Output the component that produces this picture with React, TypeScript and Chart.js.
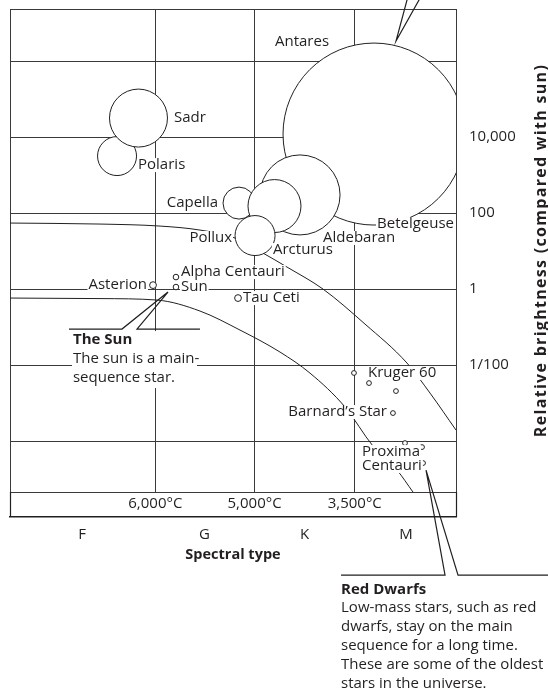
import React, { useEffect, useRef } from 'react';
import { Chart, registerables } from 'chart.js';

Chart.register(...registerables);

// ---------- data ----------
const STAR_NAMES = [
  'Antares', 'Aldebaran', 'Capella', 'Arcturus', 'Pollux', 'Polaris', 'Sadr',
  'Asterion', 'Alpha Centauri', 'Sun', 'Tau Ceti',
  'Kruger 60', 'Kruger 60 B', 'Red dwarf A', 'Barnard’s Star',
  'Red dwarf B', 'Red dwarf C', 'Proxima Centauri',
];
// position along the spectral-type axis (F→M)
const STAR_X = [3.632, 2.894, 2.285, 2.639, 2.445, 1.068, 1.282, 1.427, 1.656, 1.656, 2.275, 3.432, 3.582, 3.851, 3.821, 3.941, 4.111, 4.121];
// brightness relative to the sun
const STAR_BRIGHTNESS = [12000, 300, 183, 153, 25.6, 3160, 31600, 1.27, 2.07, 1.13, 0.58, 0.0062, 0.00336, 0.00207, 0.000546, 0.0000886, 0.0000695, 0.0000264];
// relative star size (bubble radius)
const STAR_SIZE = [91, 40, 16, 26.5, 20, 19.5, 29, 3.4, 2.8, 2.8, 3.4, 2.4, 2.4, 2.4, 2.4, 2.4, 2.4, 2.4];

const UPPER_CURVE_X = [0, 0.898, 1.497, 1.896, 2.245, 2.524, 2.764, 3.123, 3.542, 3.961, 4.191, 4.45];
const UPPER_CURVE_L = [54.6, 51.4, 45.5, 35.7, 22.0, 8.86, 3.79, 1.0, 0.12, 0.0113, 0.00183, 0.000195];
const LOWER_CURVE_X = [0, 0.898, 1.467, 1.896, 2.295, 2.694, 2.993, 3.343, 3.622, 3.861, 4.021];
const LOWER_CURVE_L = [0.58, 0.562, 0.514, 0.264, 0.0834, 0.022, 0.00615, 0.000785, 0.0000738, 0.0000173, 0.00000455];

const X_MIN = 0;
const X_MAX = 4.45;
const TEMP_TICKS = [1.45, 2.44, 3.44];
const TEMP_LABELS = ['6,000°C', '5,000°C', '3,500°C'];
const SPECTRAL_TICKS = [0.72, 1.94, 2.94, 3.95];
const SPECTRAL_LABELS = ['F', 'G', 'K', 'M'];
const Y_MIN = Math.pow(10, -5.34);
const Y_MAX = Math.pow(10, 7.37);
const BRIGHTNESS_TICKS = [1e-4, 1e-2, 1, 1e2, 1e4, 1e6];
const BRIGHTNESS_LABELS = ['', '1/100', '1', '100', '10,000', ''];

const SUN_NOTE_TITLE = 'The Sun';
const SUN_NOTE_LINES = ['The sun is a main-', 'sequence star.'];
const DWARF_NOTE_TITLE = 'Red Dwarfs';
const DWARF_NOTE_LINES = [
  'Low-mass stars, such as red',
  'dwarfs, stay on the main',
  'sequence for a long time.',
  'These are some of the oldest',
  'stars in the universe.',
];
const Y_TITLE = 'Relative brightness (compared with sun)';
const X_TITLE = 'Spectral type';

// ---------- styles / placement ----------
const FONT = '"Open Sans", "DejaVu Sans", sans-serif';
const FS = 15;
const INK = '#231f20';
const GRID = '#3a3a3a';

type Align = 'left' | 'right' | 'center';
const STAR_LABELS: { text: string; star: number; dx: number; dy: number; align: Align }[] = [
  { text: 'Antares', star: 0, dx: -72, dy: -92, align: 'center' },
  { text: 'Betelgeuse', star: 0, dx: 3, dy: 90, align: 'left' },
  { text: 'Aldebaran', star: 1, dx: 23, dy: 43, align: 'left' },
  { text: 'Capella', star: 2, dx: -21, dy: 0, align: 'right' },
  { text: 'Arcturus', star: 3, dx: -1.5, dy: 44, align: 'left' },
  { text: 'Pollux', star: 4, dx: -23, dy: 2.5, align: 'right' },
  { text: 'Polaris', star: 5, dx: 21, dy: 9, align: 'left' },
  { text: 'Sadr', star: 6, dx: 35.5, dy: 0, align: 'left' },
  { text: 'Asterion', star: 7, dx: -6, dy: 0, align: 'right' },
  { text: 'Alpha Centauri', star: 8, dx: 5, dy: -5, align: 'left' },
  { text: 'Sun', star: 9, dx: 5, dy: 0, align: 'left' },
  { text: 'Tau Ceti', star: 10, dx: 5, dy: 0, align: 'left' },
  { text: 'Kruger 60', star: 11, dx: 14, dy: 0, align: 'left' },
  { text: 'Barnard’s Star', star: 14, dx: -6, dy: -1, align: 'right' },
  { text: 'Proxima', star: 17, dx: -61, dy: -11, align: 'left' },
  { text: 'Centauri', star: 17, dx: -61, dy: 3, align: 'left' },
];

function starPixel(chart: any, i: number) {
  return {
    x: chart.scales.x.getPixelForValue(STAR_X[i]),
    y: chart.scales.y.getPixelForValue(STAR_BRIGHTNESS[i]),
  };
}

function drawLabel(ctx: CanvasRenderingContext2D, text: string, x: number, y: number, align: Align) {
  ctx.font = `${FS}px ${FONT}`;
  const w = ctx.measureText(text).width;
  const left = align === 'left' ? x : align === 'right' ? x - w : x - w / 2;
  ctx.fillStyle = '#fff';
  ctx.fillRect(left - 1, y - 7, w + 2, 14);
  ctx.fillStyle = INK;
  ctx.textAlign = align;
  ctx.textBaseline = 'middle';
  ctx.fillText(text, x, y);
}

function polyline(ctx: CanvasRenderingContext2D, pts: number[][]) {
  ctx.beginPath();
  pts.forEach((p, i) => (i === 0 ? ctx.moveTo(p[0], p[1]) : ctx.lineTo(p[0], p[1])));
  ctx.stroke();
}

const zeroPadding = (s: any) => {
  s.paddingTop = 0;
  s.paddingBottom = 0;
  s.paddingLeft = 0;
  s.paddingRight = 0;
};

const decorPlugin = {
  id: 'decor',
  afterDatasetsDraw(chart: any) {
    const ctx: CanvasRenderingContext2D = chart.ctx;
    ctx.save();
    STAR_LABELS.forEach((l) => {
      const p = starPixel(chart, l.star);
      drawLabel(ctx, l.text, p.x + l.dx, p.y + l.dy, l.align);
    });
    ctx.restore();
  },
  afterDraw(chart: any) {
    const ctx: CanvasRenderingContext2D = chart.ctx;
    const ca = chart.chartArea;
    const xs = chart.scales.x;
    const ys = chart.scales.y;
    ctx.save();
    ctx.strokeStyle = INK;

    // temperature band side edges
    ctx.lineWidth = 1.2;
    polyline(ctx, [[ca.left + 0.5, ca.bottom], [ca.left + 0.5, xs.bottom]]);
    polyline(ctx, [[ca.right + 0.5, ca.bottom], [ca.right + 0.5, xs.bottom]]);

    // Antares pointer
    const a = starPixel(chart, 0);
    const ap = [a.x + 22, a.y - 93];
    polyline(ctx, [[ap[0] + 13.4, ap[1] - 50], ap, [ap[0] + 28, ap[1] - 50]]);

    // The Sun callout
    const s = starPixel(chart, 9);
    const sp = [s.x - 8, s.y + 5];
    ctx.fillStyle = '#fff';
    ctx.fillRect(sp[0] - 96, sp[1] + 39, 125, 57);
    polyline(ctx, [[sp[0] - 99, sp[1] + 37], [sp[0] - 46, sp[1] + 37], sp, [sp[0] - 31, sp[1] + 37], [sp[0] + 32, sp[1] + 37]]);
    ctx.fillStyle = INK;
    ctx.textAlign = 'left';
    ctx.textBaseline = 'middle';
    ctx.font = `bold ${FS}px ${FONT}`;
    ctx.fillText(SUN_NOTE_TITLE, sp[0] - 95, sp[1] + 48);
    ctx.font = `${FS}px ${FONT}`;
    SUN_NOTE_LINES.forEach((t, i) => ctx.fillText(t, sp[0] - 95, sp[1] + 67 + i * 19));

    // Red dwarfs callout
    const d = starPixel(chart, 17);
    const dp = [d.x + 3, d.y + 7];
    polyline(ctx, [[dp[0] - 85, dp[1] + 105], [dp[0] + 19, dp[1] + 105], dp, [dp[0] + 32, dp[1] + 105], [dp[0] + 140, dp[1] + 105]]);
    ctx.font = `bold ${FS}px ${FONT}`;
    ctx.fillText(DWARF_NOTE_TITLE, dp[0] - 85, dp[1] + 120);
    ctx.font = `${FS}px ${FONT}`;
    DWARF_NOTE_LINES.forEach((t, i) => ctx.fillText(t, dp[0] - 85, dp[1] + 138 + i * 19));

    // rotated y-axis title (reads bottom to top)
    ctx.save();
    ctx.translate(ys.right - 7, (ca.top + ca.bottom) / 2);
    ctx.rotate(-Math.PI / 2);
    ctx.font = `bold 16px ${FONT}`;
    (ctx as any).letterSpacing = '1.3px';
    ctx.textAlign = 'center';
    ctx.fillText(Y_TITLE, 0, 0);
    ctx.restore();

    ctx.restore();
  },
};

export default function App() {
  const ref = useRef<HTMLCanvasElement>(null);
  useEffect(() => {
    const canvas = ref.current;
    if (!canvas) return;
    const chart = new Chart(canvas, {
      type: 'bubble',
      data: {
        datasets: [
          {
            type: 'bubble',
            label: 'Stars',
            data: STAR_NAMES.map((_, i) => ({ x: STAR_X[i], y: STAR_BRIGHTNESS[i], r: STAR_SIZE[i] })),
            backgroundColor: '#ffffff',
            borderColor: INK,
            borderWidth: 1,
            clip: 0,
            order: 0,
          } as any,
          {
            type: 'line',
            label: 'Main sequence (upper)',
            data: UPPER_CURVE_X.map((x, i) => ({ x, y: UPPER_CURVE_L[i] })),
            borderColor: INK,
            borderWidth: 1,
            pointRadius: 0,
            fill: false,
            cubicInterpolationMode: 'monotone',
            order: 1,
          } as any,
          {
            type: 'line',
            label: 'Main sequence (lower)',
            data: LOWER_CURVE_X.map((x, i) => ({ x, y: LOWER_CURVE_L[i] })),
            borderColor: INK,
            borderWidth: 1,
            pointRadius: 0,
            fill: false,
            cubicInterpolationMode: 'monotone',
            order: 2,
          } as any,
        ],
      },
      options: {
        responsive: false,
        animation: false,
        events: [],
        devicePixelRatio: 1,
        layout: { autoPadding: false, padding: { top: 9, left: 10, right: 0, bottom: 126 } },
        plugins: { legend: { display: false }, tooltip: { enabled: false } },
        scales: {
          x: {
            type: 'linear',
            position: 'bottom',
            weight: 0,
            min: X_MIN,
            max: X_MAX,
            afterBuildTicks: (s: any) => {
              s.ticks = [X_MIN, ...TEMP_TICKS, X_MAX].map((v) => ({ value: v }));
            },
            afterFit: (s: any) => {
              s.height = 25;
              zeroPadding(s);
            },
            ticks: {
              autoSkip: false,
              maxRotation: 0,
              padding: 3,
              color: INK,
              font: { family: FONT, size: FS },
              callback: (v: any) => {
                const i = TEMP_TICKS.indexOf(v);
                return i >= 0 ? TEMP_LABELS[i] : '';
              },
            },
            grid: { color: GRID, lineWidth: 1, drawTicks: false },
            border: { display: true, color: GRID, width: 1 },
          },
          x2: {
            type: 'linear',
            position: 'bottom',
            weight: 1,
            min: X_MIN,
            max: X_MAX,
            afterBuildTicks: (s: any) => {
              s.ticks = SPECTRAL_TICKS.map((v) => ({ value: v }));
            },
            afterFit: (s: any) => {
              s.height = 47;
              zeroPadding(s);
            },
            ticks: {
              autoSkip: false,
              maxRotation: 0,
              padding: 9,
              color: INK,
              font: { family: FONT, size: FS },
              callback: (_v: any, i: number) => SPECTRAL_LABELS[i],
            },
            grid: { display: false, drawTicks: false },
            border: { display: true, color: INK, width: 1.5 },
            title: {
              display: true,
              text: X_TITLE,
              color: INK,
              font: { family: FONT, size: 14.5, weight: 'bold' },
              padding: 0,
            },
          },
          y: {
            type: 'logarithmic',
            position: 'right',
            min: Y_MIN,
            max: Y_MAX,
            afterBuildTicks: (s: any) => {
              s.ticks = [Y_MIN, ...BRIGHTNESS_TICKS, Y_MAX].map((v) => ({ value: v }));
            },
            afterFit: (s: any) => {
              s.width = 92;
              zeroPadding(s);
            },
            ticks: {
              autoSkip: false,
              padding: 13,
              color: INK,
              font: { family: FONT, size: FS },
              callback: (v: any) => {
                const k = BRIGHTNESS_TICKS.findIndex((t) => Math.abs(Math.log10(t) - Math.log10(v)) < 1e-6);
                return k >= 0 ? BRIGHTNESS_LABELS[k] : '';
              },
            },
            grid: { color: GRID, lineWidth: 1, drawTicks: false },
            border: { display: true, color: GRID, width: 1 },
          },
        },
      } as any,
      plugins: [decorPlugin],
    });
    return () => chart.destroy();
  }, []);
  return (
    <div style={{ position: 'absolute', left: 0, top: 0, width: 548, height: 690, background: '#fff' }}>
      <canvas ref={ref} width={548} height={690} style={{ display: 'block', width: 548, height: 690 }} />
    </div>
  );
}
